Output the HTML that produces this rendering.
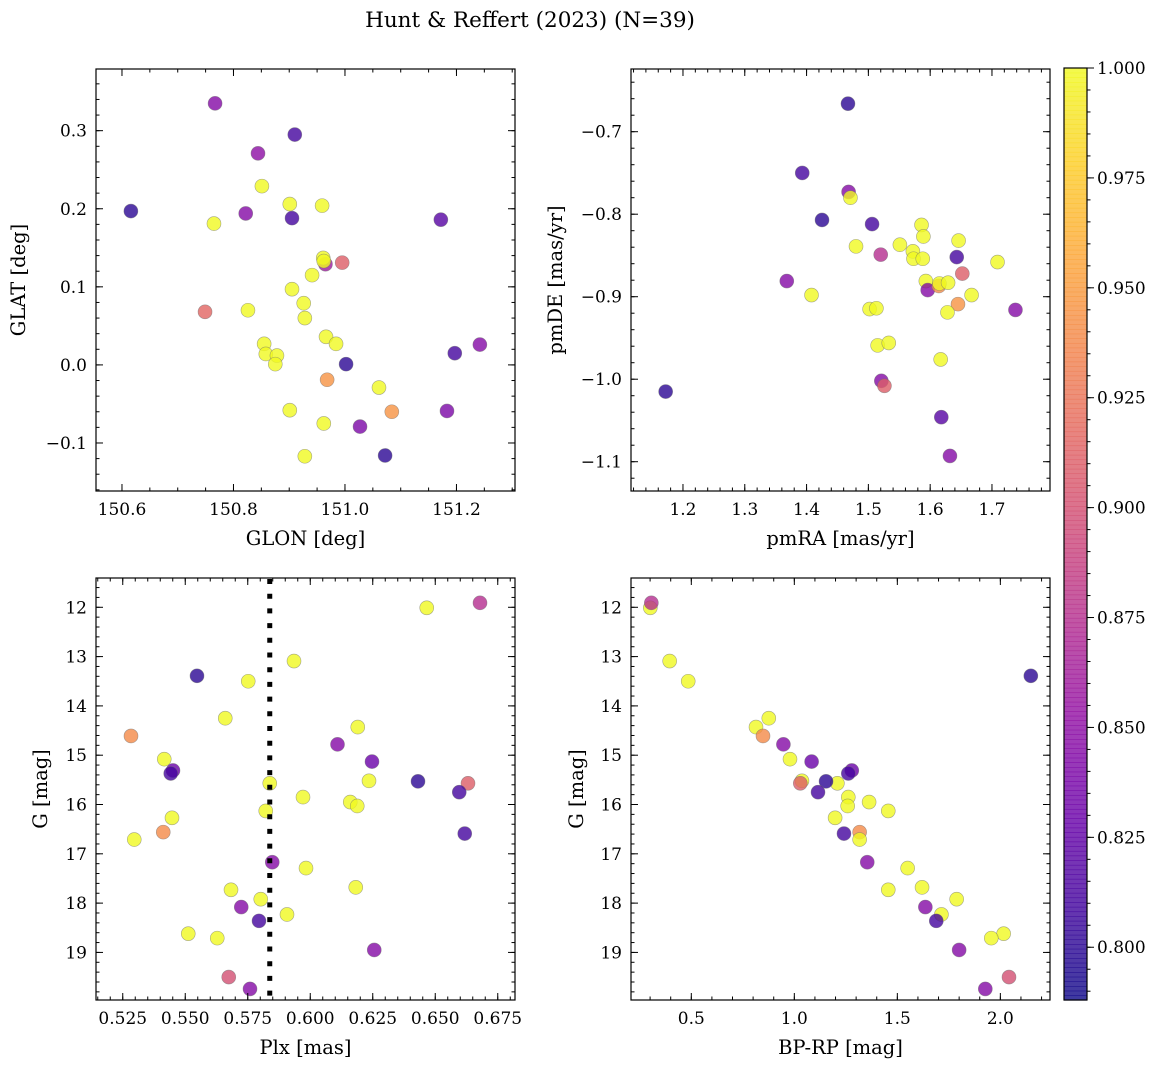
<!DOCTYPE html>
<html><head><meta charset="utf-8">
<style>
html,body{margin:0;padding:0;background:#fff;}
svg{display:block;font-family:"DejaVu Serif","Liberation Serif",serif;}
</style></head>
<body>
<svg id="fig" width="1161" height="1068" viewBox="0 0 1161 1068" xmlns="http://www.w3.org/2000/svg">
<rect width="1161" height="1068" fill="#fff"/>
<text x="530" y="27" font-size="21.5" text-anchor="middle">Hunt &amp; Reffert (2023) (N=39)</text>
</svg>
<script>
// ---- data: top-left panel (GLON / GLAT) ----
const glon = [150.616,150.767,150.910,150.844,150.851,150.901,150.959,150.822,150.905,150.765,151.172,150.965,150.961,150.962,150.995,150.941,150.905,150.926,150.928,150.749,150.826,150.855,150.858,150.878,150.875,150.966,150.984,151.002,150.968,151.061,151.197,151.242,150.901,151.084,151.183,150.962,151.027,150.928,151.072];
const glat = [0.197,0.335,0.295,0.271,0.229,0.206,0.204,0.194,0.188,0.181,0.186,0.129,0.137,0.133,0.131,0.115,0.097,0.079,0.060,0.068,0.070,0.027,0.014,0.012,0.001,0.036,0.027,0.001,-0.019,-0.029,0.015,0.026,-0.058,-0.060,-0.059,-0.075,-0.079,-0.117,-0.116];
const probPos = [0.80,0.845,0.81,0.85,1,1,1,0.845,0.81,1,0.82,0.86,1,1,0.91,1,1,1,1,0.915,1,1,1,1,1,1,1,0.80,0.945,1,0.81,0.845,1,0.945,0.84,1,0.84,1,0.80];
// ---- data: top-right panel (pmRA / pmDE) ----
const pmra = [1.467,1.393,1.468,1.471,1.425,1.506,1.586,1.589,1.646,1.480,1.551,1.572,1.520,1.573,1.588,1.643,1.709,1.652,1.368,1.593,1.596,1.614,1.615,1.629,1.667,1.408,1.502,1.513,1.645,1.628,1.738,1.515,1.533,1.617,1.521,1.526,1.172,1.618,1.632];
const pmde = [-0.666,-0.750,-0.773,-0.780,-0.807,-0.812,-0.813,-0.827,-0.832,-0.839,-0.837,-0.845,-0.849,-0.854,-0.854,-0.852,-0.858,-0.872,-0.881,-0.881,-0.892,-0.887,-0.884,-0.883,-0.898,-0.898,-0.915,-0.914,-0.909,-0.919,-0.916,-0.959,-0.956,-0.976,-1.002,-1.008,-1.015,-1.046,-1.093];
const probPm = [0.80,0.81,0.845,1,0.80,0.81,1,1,1,1,1,1,0.875,1,1,0.81,1,0.91,0.845,1,0.845,0.94,1,1,1,1,1,1,0.945,1,0.845,1,1,1,0.845,0.91,0.80,0.82,0.845];
// ---- data: bottom panels (Plx, G, BP-RP) ----
const plx  = [0.6466,0.6679,0.5935,0.5547,0.5752,0.5660,0.6190,0.5283,0.6109,0.5416,0.6247,0.5451,0.5442,0.5838,0.6235,0.6431,0.6631,0.6596,0.5971,0.6160,0.6188,0.5822,0.5447,0.6618,0.5412,0.5296,0.5848,0.5983,0.6182,0.5683,0.5802,0.5724,0.5907,0.5795,0.5512,0.5628,0.6256,0.5674,0.5759];
const gmag = [12.01,11.91,13.09,13.39,13.50,14.25,14.43,14.61,14.78,15.08,15.13,15.31,15.37,15.57,15.52,15.53,15.57,15.75,15.85,15.95,16.03,16.13,16.27,16.59,16.56,16.71,17.17,17.29,17.68,17.73,17.92,18.08,18.23,18.36,18.62,18.71,18.95,19.50,19.74];
const bprp = [0.301,0.306,0.395,2.148,0.485,0.876,0.814,0.848,0.947,0.979,1.084,1.279,1.262,1.209,1.037,1.154,1.029,1.115,1.262,1.363,1.259,1.456,1.198,1.241,1.317,1.317,1.354,1.550,1.620,1.456,1.788,1.636,1.714,1.689,2.016,1.956,1.800,2.042,1.927];
const probPh = [1,0.875,1,0.80,1,1,1,0.94,0.845,1,0.83,0.83,0.81,1,1,0.80,0.91,0.81,1,1,1,1,1,0.81,0.94,1,0.845,1,1,1,1,0.845,1,0.81,1,1,0.845,0.90,0.845];
const plxLine = [0.5838];
const cbTicks = ["0.800","0.825","0.850","0.875","0.900","0.925","0.950","0.975","1.000"];

const NS = "http://www.w3.org/2000/svg";
const svg = document.getElementById('fig');
const VMIN = 0.788, VMAX = 1.0;
const stops = [[13,8,135],[65,4,157],[106,0,168],[143,13,164],[177,42,144],[204,71,120],[225,100,98],[242,132,75],[252,166,54],[252,206,37],[240,249,33]];
function plasma(v){
  let t = (v-VMIN)/(VMAX-VMIN); t=Math.max(0,Math.min(1,t));
  const f=t*10, i=Math.min(9,Math.floor(f)), r=f-i;
  const a=stops[i], b=stops[i+1];
  return `rgb(${Math.round(a[0]+(b[0]-a[0])*r)},${Math.round(a[1]+(b[1]-a[1])*r)},${Math.round(a[2]+(b[2]-a[2])*r)})`;
}
function el(tag, attrs, parent){
  const e=document.createElementNS(NS,tag);
  for(const k in attrs) e.setAttribute(k,attrs[k]);
  (parent||svg).appendChild(e); return e;
}
function fmt(v,d){ return (v<0?'\u2212':'')+Math.abs(v).toFixed(d); }

function panel(cfg){
  const g=el('g',{});
  
  
  const {x0,y0,w,h,xmin,xmax,ymin,ymax}=cfg;
  const sx=v=>x0+(v-xmin)/(xmax-xmin)*w;
  const sy=v=>y0+(ymax-v)/(ymax-ymin)*h;
  const syI=v=>y0+(v-ymin)/(ymax-ymin)*h;
  const Y = cfg.invert?syI:sy;
  const clip='clip-'+cfg.name;
  const cp=el('clipPath',{id:clip},g); el('rect',{x:x0,y:y0,width:w,height:h},cp);
  const mg=el('g',{'clip-path':`url(#${clip})`},g);
  for(let i=0;i<cfg.xs.length;i++){
    const c=el('circle',{cx:sx(cfg.xs[i]),cy:Y(cfg.ys[i]),r:7,fill:plasma(cfg.ps[i]),'fill-opacity':0.8,stroke:'#6e6e6e','stroke-opacity':0.6,'stroke-width':0.6},mg);
    
    
  }
  if(cfg.vline){
    const ln=el('line',{x1:sx(cfg.vline[0]),x2:sx(cfg.vline[0]),y1:y0+1,y2:y0+h,stroke:'#000','stroke-width':5,'stroke-dasharray':'5 9.7'},mg);
    
    
  }
  el('rect',{x:x0,y:y0,width:w,height:h,fill:'none',stroke:'#000','stroke-width':1.2},g);
  const tx=(v,len)=>{const p=sx(v); if(p<x0-0.5||p>x0+w+0.5) return;
    el('line',{x1:p,x2:p,y1:y0+h,y2:y0+h-len,stroke:'#000','stroke-width':1},g);
    el('line',{x1:p,x2:p,y1:y0,y2:y0+len,stroke:'#000','stroke-width':1},g);};
  for(let v=Math.ceil(xmin/cfg.xminor)*cfg.xminor; v<=xmax; v+=cfg.xminor) tx(v,3.5);
  cfg.xmaj.forEach(v=>{tx(v,7); const t=el('text',{x:sx(v),y:y0+h+24,'font-size':17,'text-anchor':'middle'},g); t.textContent=v.toFixed(cfg.xd);
     });
  const ty=(v,len)=>{const p=Y(v); if(p<y0-0.5||p>y0+h+0.5) return;
    el('line',{x1:x0,x2:x0+len,y1:p,y2:p,stroke:'#000','stroke-width':1},g);
    el('line',{x1:x0+w,x2:x0+w-len,y1:p,y2:p,stroke:'#000','stroke-width':1},g);};
  for(let v=Math.ceil(ymin/cfg.yminor-1e-9)*cfg.yminor; v<=ymax+1e-9; v+=cfg.yminor) ty(v,3.5);
  cfg.ymaj.forEach(v=>{ty(v,7); const t=el('text',{x:x0-9,y:Y(v)+6,'font-size':17,'text-anchor':'end'},g); t.textContent=fmt(v,cfg.yd);
     });
  const xl=el('text',{x:x0+w/2,y:y0+h+54,'font-size':19.5,'text-anchor':'middle'},g); xl.textContent=cfg.xlabel;
   
  const yx=cfg.ylx, yy=y0+h/2;
  const yl=el('text',{x:yx,y:yy,'font-size':19.5,'text-anchor':'middle',transform:`rotate(-90 ${yx} ${yy})`},g); yl.textContent=cfg.ylabel;
   
}

panel({name:'glon-glat-panel',x0:96,y0:69,w:419,h:422,xmin:150.5534,xmax:151.305,ymin:-0.1615,ymax:0.379,
  xs:glon,ys:glat,ps:probPos,xmaj:[150.6,150.8,151.0,151.2],xd:1,xminor:0.05,ymaj:[-0.1,0,0.1,0.2,0.3],yd:1,yminor:0.02,
  xlabel:'GLON [deg]',ylabel:'GLAT [deg]',ylx:25});
panel({name:'proper-motion-panel',x0:631,y0:69,w:419,h:422,xmin:1.1159,xmax:1.7939,ymin:-1.1355,ymax:-0.624,
  xs:pmra,ys:pmde,ps:probPm,xmaj:[1.2,1.3,1.4,1.5,1.6,1.7],xd:1,xminor:0.02,ymaj:[-1.1,-1.0,-0.9,-0.8,-0.7],yd:1,yminor:0.02,
  xlabel:'pmRA [mas/yr]',ylabel:'pmDE [mas/yr]',ylx:562});
panel({name:'plx-g-panel',x0:96,y0:578,w:419,h:422,xmin:0.5143,xmax:0.6819,ymin:11.406,ymax:19.965,invert:true,
  xs:plx,ys:gmag,ps:probPh,vline:plxLine,xmaj:[0.525,0.55,0.575,0.6,0.625,0.65,0.675],xd:3,xminor:0.005,ymaj:[12,13,14,15,16,17,18,19],yd:0,yminor:0.2,
  xlabel:'Plx [mas]',ylabel:'G [mag]',ylx:47});
panel({name:'cmd-panel',x0:631,y0:578,w:419,h:422,xmin:0.2073,xmax:2.241,ymin:11.406,ymax:19.965,invert:true,
  xs:bprp,ys:gmag,ps:probPh,xmaj:[0.5,1.0,1.5,2.0],xd:1,xminor:0.1,ymaj:[12,13,14,15,16,17,18,19],yd:0,yminor:0.2,
  xlabel:'BP-RP [mag]',ylabel:'G [mag]',ylx:583});

(function(){
  const g=el('g',{});
  
  
  const x=1064,w=23,y0=68,y1=1000,H=y1-y0;
  const N=200;
  for(let i=0;i<N;i++){
    const v=VMIN+(i+0.5)/N*(VMAX-VMIN);
    el('rect',{x:x,y:y1-(i+1)*H/N,width:w,height:H/N+0.6,fill:plasma(v),'fill-opacity':0.8},g);
  }
  el('rect',{x:x,y:y0,width:w,height:H,fill:'none',stroke:'#000','stroke-width':1.2},g);
  const yv=v=>y1-(v-VMIN)/(VMAX-VMIN)*H;
  for(let k=Math.ceil(VMIN/0.005);k*0.005<=VMAX+1e-9;k++){
    const p=yv(k*0.005);
    el('line',{x1:x+w,x2:x+w+3.5,y1:p,y2:p,stroke:'#000','stroke-width':1},g);
  }
  cbTicks.forEach(s=>{const v=parseFloat(s),p=yv(v);
    el('line',{x1:x+w,x2:x+w+7,y1:p,y2:p,stroke:'#000','stroke-width':1},g);
    const t=el('text',{x:x+w+10,y:p+6,'font-size':17},g); t.textContent=s;
     });
})();
</script>
</body></html>
